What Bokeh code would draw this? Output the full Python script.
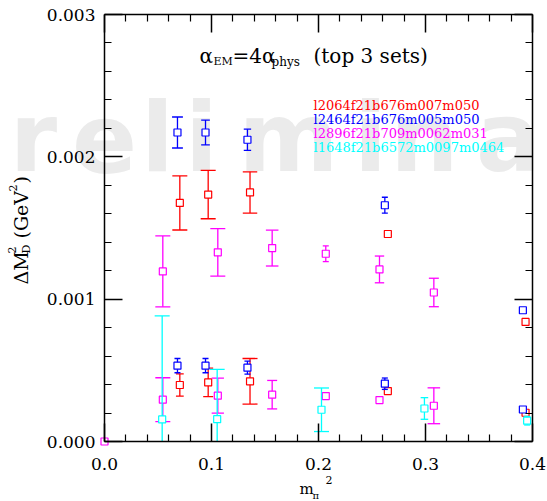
import math
from bokeh.plotting import figure
from bokeh.models import (Range1d, LinearAxis, FixedTicker, Label,
                          ColumnDataSource, CustomJSTickFormatter)
from bokeh.embed import file_html
from bokeh.resources import INLINE

# ---------------- data ----------------
red_x = [0.0704, 0.0969, 0.1360, 0.2648, 0.3935, 0.0704, 0.0969, 0.1360, 0.2648, 0.3935]
red_y = [0.001676, 0.001735, 0.001750, 0.001458, 0.000840, 0.000397, 0.000415, 0.000423, 0.000354, 0.000202]
red_err = [0.000190, 0.000170, 0.000145, 0.000015, 0.000010, 0.000078, 0.000100, 0.000160, 0.000015, 0.000010]

blue_x = [0.0682, 0.0944, 0.1336, 0.2620, 0.3910, 0.0682, 0.0944, 0.1336, 0.2620, 0.3910]
blue_y = [0.002171, 0.002171, 0.002120, 0.001660, 0.000922, 0.000533, 0.000533, 0.000519, 0.000406, 0.000225]
blue_err = [0.000109, 0.000087, 0.000074, 0.000056, 0.000010, 0.000050, 0.000050, 0.000046, 0.000040, 0.000010]

magenta_x = [0.0, 0.0545, 0.1059, 0.1567, 0.2068, 0.2570, 0.3078, 0.0545, 0.1059, 0.1567, 0.2068, 0.2570, 0.3078]
magenta_y = [0.0, 0.001195, 0.001329, 0.001359, 0.001319, 0.001209, 0.001047, 0.000294, 0.000322, 0.000329, 0.000319, 0.000291, 0.000251]
magenta_err = [0.0, 0.000249, 0.000167, 0.000126, 0.000055, 0.000094, 0.000100, 0.000154, 0.000123, 0.000100, 0.000010, 0.000010, 0.000126]

cyan_x = [0.0539, 0.1053, 0.2028, 0.2990, 0.3950]
cyan_y = [0.000155, 0.000157, 0.000223, 0.000232, 0.000146]
cyan_err = [0.000727, 0.000350, 0.000153, 0.000076, 0.000030]

series_names = ["l2064f21b676m007m050", "l2464f21b676m005m050",
                "l2896f21b709m0062m031", "l1648f21b6572m0097m0464"]
series_colors = ["#ff0000", "#0000ff", "#ff00ff", "#00ffff"]

x_ticks = [0.0, 0.1, 0.2, 0.3, 0.4]
x_tick_labels = ["0.0", "0.1", "0.2", "0.3", "0.4"]
x_minor = [0.02, 0.04, 0.06, 0.08, 0.12, 0.14, 0.16, 0.18, 0.22, 0.24, 0.26, 0.28,
           0.32, 0.34, 0.36, 0.38]
y_ticks = [0.0, 0.001, 0.002, 0.003]
y_tick_labels = ["0.000", "0.001", "0.002", "0.003"]
y_minor = [0.0002, 0.0004, 0.0006, 0.0008, 0.0012, 0.0014, 0.0016, 0.0018,
           0.0022, 0.0024, 0.0026, 0.0028]

# ---------------- layout ----------------
W, H = 547, 501
PL, PR, PT, PB = 104, 532, 14, 441      # plot box in canvas pixels
XMIN, XMAX = 0.0, 0.4
YMIN, YMAX = 0.0, 0.003


def dx(px):
    return XMIN + (px - PL) / (PR - PL) * (XMAX - XMIN)


def dy(py):
    return YMIN + (PB - py) / (PB - PT) * (YMAX - YMIN)


p = figure(width=W, height=H, x_range=Range1d(dx(0), dx(W)), y_range=Range1d(dy(H), dy(0)),
           output_backend="svg", toolbar_location=None, title=None,
           x_axis_location=None, y_axis_location=None,
           min_border_left=0, min_border_right=0, min_border_top=0, min_border_bottom=0)
p.xgrid.visible = False
p.ygrid.visible = False
p.outline_line_color = None
p.background_fill_color = "white"
p.border_fill_color = "white"

FONT = "DejaVu Serif"


def make_axis(loc, bounds, ticks, minor, labels, show, standoff):
    ax = LinearAxis(fixed_location=loc, bounds=bounds)
    ax.ticker = FixedTicker(ticks=ticks, minor_ticks=minor)
    ax.major_tick_in = 18
    ax.major_tick_out = 0
    ax.minor_tick_in = 7
    ax.minor_tick_out = 0
    ax.axis_line_width = 1.5
    ax.axis_line_color = "black"
    ax.major_tick_line_width = 1.5
    ax.minor_tick_line_width = 1.2
    ax.major_tick_line_color = "black"
    ax.minor_tick_line_color = "black"
    if show:
        ax.major_label_overrides = {t: s for t, s in zip(ticks, labels)}
        ax.major_label_text_font = FONT
        ax.major_label_text_font_size = "17px"
        ax.major_label_text_color = "black"
        ax.major_label_standoff = standoff
    else:
        ax.formatter = CustomJSTickFormatter(code="return ''")
        ax.major_label_text_color = None
        ax.major_label_standoff = 0
    return ax


p.add_layout(make_axis(YMIN, (XMIN, XMAX), x_ticks, x_minor, x_tick_labels, True, 16), "below")
p.add_layout(make_axis(XMIN, (YMIN, YMAX), y_ticks, y_minor, y_tick_labels, True, 9), "left")
p.add_layout(make_axis(XMAX, (YMIN, YMAX), y_ticks, y_minor, y_tick_labels, False, 0), "right")
p.add_layout(make_axis(YMAX, (XMIN, XMAX), x_ticks, x_minor, x_tick_labels, False, 0), "above")


def lab(text, px, py, size, color="black", font=FONT, angle=0.0, style="normal",
        level="annotation", align="left"):
    p.add_layout(Label(x=dx(px), y=dy(py), text=text, text_font=font,
                       text_font_size=f"{size}px", text_color=color, text_align=align,
                       text_baseline="alphabetic", angle=angle, text_font_style=style,
                       level=level))


# watermark
wm_letters = ["r", "e", "l", "i", "m", "i", "n", "a"]
wm_centers = [33, 104, 157, 201, 288, 370, 424, 508]
for ch, cx in zip(wm_letters, wm_centers):
    lab(ch, cx, 137, 96, color="#ebebeb", font="DejaVu Sans", style="bold",
        level="underlay", align="center")

# data series
series = [(red_x, red_y, red_err), (blue_x, blue_y, blue_err),
          (magenta_x, magenta_y, magenta_err), (cyan_x, cyan_y, cyan_err)]
for (xs, ys, es), col in zip(series, series_colors):
    lo_raw = [y - e for y, e in zip(ys, es)]
    lo = [max(v, YMIN) for v in lo_raw]
    hi = [y + e for y, e in zip(ys, es)]
    cap_hi, cap_lo = [], []
    for e, lr in zip(es, lo_raw):
        epx = e / (YMAX - YMIN) * (PB - PT)
        c = 0 if e <= 0 else max(6.0, min(15.0, epx * 0.7))
        cap_hi.append(c)
        cap_lo.append(c if lr >= YMIN else 0)
    src = ColumnDataSource(dict(x=xs, y=ys, lo=lo, hi=hi, caph=cap_hi, capl=cap_lo))
    p.segment(x0="x", y0="lo", x1="x", y1="hi", source=src, line_color=col, line_width=1.3)
    p.scatter(x="x", y="hi", marker="dash", size="caph", source=src, line_color=col, line_width=1.3)
    p.scatter(x="x", y="lo", marker="dash", size="capl", source=src, line_color=col, line_width=1.3)
    p.scatter(x="x", y="y", marker="square", size=7, source=src, line_color=col,
              line_width=1.2, fill_color="white")

# legend texts
for i, (name, col) in enumerate(zip(series_names, series_colors)):
    lab(name, 313, 105 + 14 * i, 13, color=col)

# title
lab("\u03b1", 199, 55, 20)
lab("EM", 213, 61, 11)
lab("=4\u03b1", 232, 55, 20)
lab("phys", 271, 61, 12)
lab("(top 3 sets)", 313, 55, 20)

# x axis label
lab("m", 299, 488, 15)
lab("\u03c0", 312, 495, 10)
lab("2", 325, 479, 11)

# y axis label (rotated)
A = math.pi / 2
lab("\u0394M", 20, 284, 19, angle=A)
lab("D", 26, 253, 11, angle=A)
lab("2", 11, 253, 11, angle=A)
lab("(GeV", 20, 238, 19, angle=A)
lab("2", 12, 191, 11, angle=A)
lab(")", 20, 183, 19, angle=A)

open("out.html", "w").write(file_html(p, INLINE))
